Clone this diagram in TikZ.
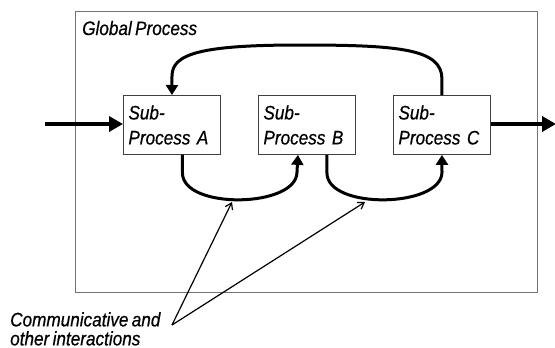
\documentclass[tikz,border=0pt]{standalone}
\usepackage{fontspec}
\setmainfont[FakeStretch=0.88,FakeBold=0.6,WordSpace=0.7]{Liberation Sans}
\usetikzlibrary{arrows.meta,calc}
\begin{document}
\begin{tikzpicture}[x=1pt,y=-1pt,
  lbl/.style={font=\fontsize{19.5}{25}\selectfont\itshape},
  procbox/.style={lbl,draw=black!75,line width=0.9pt,anchor=north west,
    minimum width=97pt,minimum height=59pt,text width=87pt,inner sep=5pt,align=left},
  flow/.style={line width=3.6pt,-{Triangle[length=14pt,width=15pt]}},
  link/.style={line width=3pt,-{Triangle[length=10pt,width=12pt]}},
  note/.style={line width=1.2pt,-{Straight Barb[length=6pt,width=8pt]}}]
\useasboundingbox (0,0) rectangle (555,348);
% enclosing process frame
\draw[draw=black!55,line width=0.9pt] (75,11) rectangle (537,292);
\node[lbl,anchor=base west,inner sep=0] (glob) at (82,35) {Global Process};
% sub-processes
\node[procbox] (A) at (123,95) {Sub-\\Process A};
\node[procbox] (B) at (258,95) {Sub-\\Process B};
\node[procbox] (C) at (393,95) {Sub-\\Process C};
% input and output
\coordinate (in) at (45,124);
\coordinate (out) at (556,124);
\draw[flow] (in) -- (A.west |- in);
\draw[flow] (C.east |- out) -- (out);
% feedback from C to A
\draw[link] (C.north) -- ++(0,-16) .. controls ++(0,-30) and (400,45) .. (300,45)
  .. controls (200,45) and (172,54) .. (172,76) -- (A.north);
% forward links along the bottom
\draw[link] ($(A.south)+(10.5,0)$) -- ++(0,18) .. controls ++(0,37) and (297,208) .. (297,172) -- ($(B.south)+(-9,0)$);
\draw[link] ($(B.south)+(20,0)$) -- ++(0,18) .. controls ++(0,37) and (442,208) .. (442,172) -- (C.south);
% annotation
\coordinate (u1) at (232,202);
\coordinate (u2) at (365,202);
\coordinate (meet) at (172,325);
\node[anchor=north west,inner sep=0,align=left,font=\fontsize{19.5}{19}\selectfont\itshape] (note) at (10,312) {Communicative and\\other interactions};
\draw[note] (meet) -- (u1);
\draw[note] (meet) -- (u2);
\end{tikzpicture}
\end{document}
